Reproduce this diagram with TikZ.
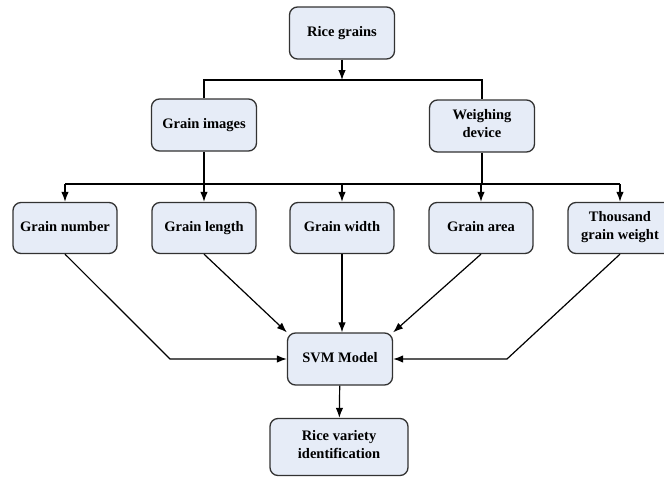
\documentclass[tikz,border=0pt]{standalone}
\usepackage{fontspec}
\setmainfont{Liberation Serif}
\usepackage{tikz}
\usetikzlibrary{arrows.meta,positioning}
\definecolor{boxfill}{RGB}{230,236,247}
\definecolor{boxline}{RGB}{50,50,50}
\tikzset{
  basic/.style   = {draw=boxline, line width=1.3pt, fill=boxfill, rounded corners=8pt,
                    font=\fontsize{14.5}{17.5}\selectfont\bfseries, align=center, rectangle,
                    execute at begin node=\strut},
  stage/.style   = {basic, minimum width=105pt, minimum height=52pt},
  feature/.style = {basic, minimum width=104pt, minimum height=51pt},
  result/.style  = {basic, minimum width=138pt, minimum height=57pt}
}

\begin{document}
\begin{tikzpicture}[x=1pt, y=-1pt,
  every path/.style={line width=1.2pt},
  >={Latex[length=10pt,width=7.5pt]}]
\useasboundingbox (0,0) rectangle (664,477);

% top of the chart: sample and the two ways of measuring it
\node[stage] (grains) at (342,33)  {Rice grains};
\node[stage] (images) at (204,125) {Grain images};
\node[stage] (weigh)  at (482,126) {Weighing\\device};

% the five features
\node[feature] (number) at (65,228)  {Grain number};
\node[feature] (length) at (204,228) {Grain length};
\node[feature] (width)  at (342,228) {Grain width};
\node[feature] (area)   at (481,228) {Grain area};
\node[feature] (weight) at (620,228) {Thousand\\grain weight};

% classifier and output
\node[stage]  (svm)     at (340,359) {SVM Model};
\node[result] (variety) at (339,447) {Rice variety\\identification};

% split points and bends
\coordinate (split1) at (342,80);
\coordinate (split2) at (342,184);
\coordinate (kinkL)  at (170,359);
\coordinate (kinkR)  at (507,359);

% first split
\draw[->] (grains) -- (split1);
\draw (images.north) -- (images.north |- split1) -- (weigh.north |- split1) -- (weigh.north);

% second split
\draw (images.south) -- (images.south |- split2);
\draw (weigh.south) -- (weigh.south |- split2);
\draw (number.north |- split2) -- (weight.north |- split2);
\foreach \name in {number,length,width,area,weight}
  \draw[->] (\name.north |- split2) -- (\name.north);

% features into the model
\draw[->] (number.south) -- (kinkL) -- (svm.west);
\draw[->] (length.south) -- (svm.north west);
\draw[->] (width.south)  -- (width.south |- svm.north);
\draw[->] (area.south)   -- (svm.north east);
\draw[->] (weight.south) -- (kinkR) -- (svm.east);

\draw[->] (svm) -- (variety);
\end{tikzpicture}
\end{document}
